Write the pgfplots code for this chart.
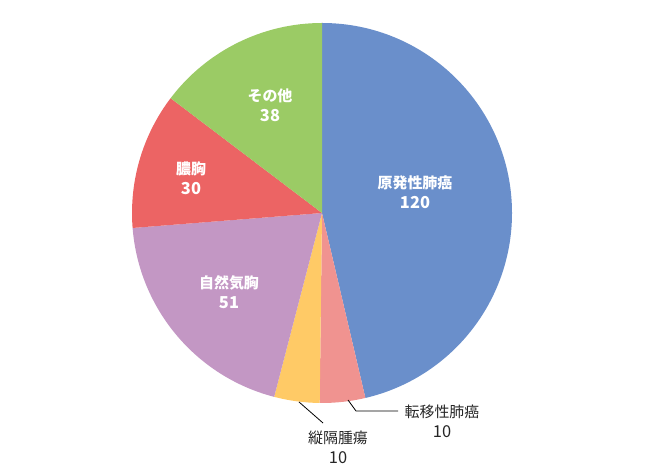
\documentclass[border=0pt]{standalone}
\usepackage{fontspec}
\setmainfont{Noto Sans CJK JP}
\usepackage{pgfplots}
\usepackage{pgfplotstable}
\pgfplotsset{compat=1.18}

\definecolor{c0}{HTML}{6A8FCB}
\definecolor{c1}{HTML}{F09390}
\definecolor{c2}{HTML}{FFCA66}
\definecolor{c3}{HTML}{C397C4}
\definecolor{c4}{HTML}{EC6464}
\definecolor{c5}{HTML}{9BCB65}
\definecolor{txt}{HTML}{262626}

% slices, clockwise from 12 o'clock
\pgfplotstableread{
name value
原発性肺癌 120
転移性肺癌 10
縦隔腫瘍 10
自然気胸 51
膿胸 30
その他 38
}\piedata

\begin{document}
\begin{tikzpicture}
\pgfplotstablegetrowsof{\piedata}
\pgfmathtruncatemacro\nlast{\pgfplotsretval-1}
\def\total{0}
\pgfplotsforeachungrouped \i in {0,...,\nlast}{%
  \pgfplotstablegetelem{\i}{value}\of\piedata
  \pgfmathsetmacro\total{\total+\pgfplotsretval}}
\def\cum{0}
\pgfplotsforeachungrouped \i in {0,...,\nlast}{%
  \pgfplotstablegetelem{\i}{value}\of\piedata
  \pgfmathsetmacro\sa{90-360*(\cum/\total)}
  \pgfmathsetmacro\cum{\cum+\pgfplotsretval}
  \pgfmathsetmacro\ea{90-360*(\cum/\total)}
  \expandafter\xdef\csname sa\i\endcsname{\sa}
  \expandafter\xdef\csname ea\i\endcsname{\ea}}

\begin{axis}[
    x=1bp, y=1bp,
    xmin=-322, xmax=324,
    ymin=-260, ymax=213,
    hide axis,
    clip=false,
    scale only axis,
]
\path (rel axis cs:0,0) rectangle (rel axis cs:1,1);

\pgfplotsinvokeforeach{0,...,5}{
  \fill[c#1] (axis cs:0,0)
    -- (axis cs:{190*cos(\csname sa#1\endcsname)},{190*sin(\csname sa#1\endcsname)})
    arc[start angle=\csname sa#1\endcsname, end angle=\csname ea#1\endcsname, radius=190bp]
    -- cycle;
}

% labels inside
\newcommand\num[1]{{\fontsize{16.5}{20}\selectfont #1}}
\tikzset{inlab/.style={white, font=\bfseries\fontsize{15}{20}\selectfont, align=center},
         outlab/.style={txt, font=\fontsize{15}{20}\selectfont, align=center}}
\node[inlab] at (axis cs:93,21) {原発性肺癌\\\num{120}};
\node[inlab] at (axis cs:-93,-79) {自然気胸\\\num{51}};
\node[inlab] at (axis cs:-131,35) {膿胸\\\num{30}};
\node[inlab] at (axis cs:-52,108) {その他\\\num{38}};

% leader lines and outside labels
\draw[black, line width=0.8bp] (axis cs:26,-187) -- (axis cs:34,-198) -- (axis cs:76,-198);
\node[outlab] at (axis cs:120,-208) {転移性肺癌\\\num{10}};
\draw[black, line width=0.8bp] (axis cs:-23,-189) -- (axis cs:1,-210);
\node[outlab] at (axis cs:16,-234) {縦隔腫瘍\\\num{10}};
\end{axis}
\end{tikzpicture}
\end{document}
